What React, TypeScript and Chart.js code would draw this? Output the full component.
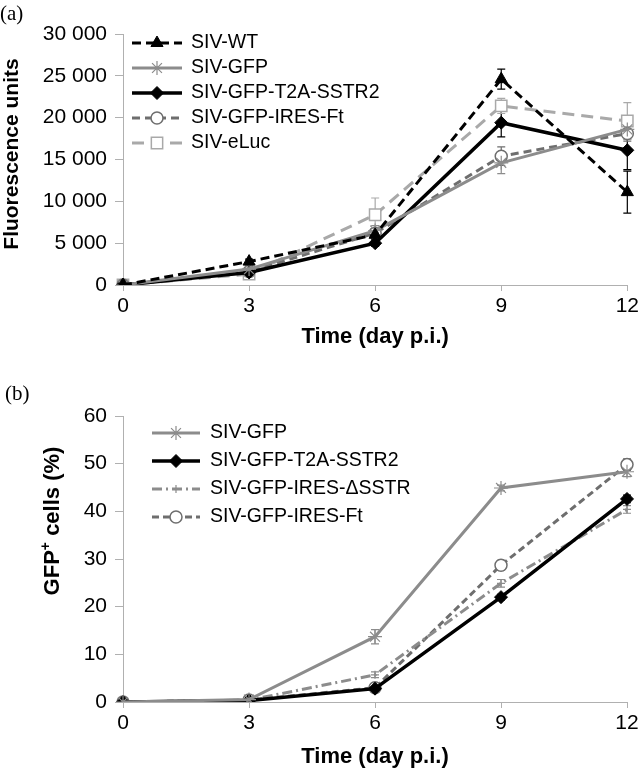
import React, { useEffect, useRef } from 'react';
import { Chart, registerables } from 'chart.js';
import { drawPoint } from 'chart.js/helpers';
Chart.register(...registerables);

const FONT = "'Liberation Sans', Arial, Helvetica, sans-serif";
const AXIS = '#b0b0b0';

// ---------- Panel (a) ----------
const daysA = ['0', '3', '6', '9', '12'];
const yTicksA = ['0', '5 000', '10 000', '15 000', '20 000', '25 000', '30 000'];
const wtA = [0, 2800, 6000, 24600, 11100];
const wtErrA = [0, 300, 500, 1200, 2500];
const gfpA = [0, 1900, 6500, 14600, 18600];
const gfpErrA = [0, 300, 600, 1300, 1200];
const t2aA = [0, 1500, 5000, 19400, 16100];
const t2aErrA = [0, 300, 400, 1700, 2300];
const ftA = [0, 1600, 6200, 15400, 18100];
const ftErrA = [0, 400, 500, 1100, 900];
const elucA = [0, 1300, 8400, 21400, 19600];
const elucErrA = [0, 500, 2000, 900, 2200];

// ---------- Panel (b) ----------
const daysB = ['0', '3', '6', '9', '12'];
const yTicksB = ['0', '10', '20', '30', '40', '50', '60'];
const gfpB = [0, 0.5, 13.7, 44.9, 48.3];
const gfpErrB = [0, 0, 1.5, 0.6, 1.0];
const t2aB = [0, 0.3, 2.8, 22.0, 42.6];
const t2aErrB = [0, 0, 0.5, 0.6, 0.8];
const dsstrB = [0, 0.4, 5.7, 24.9, 40.4];
const dsstrErrB = [0, 0, 0.6, 0.8, 0.8];
const ftB = [0, 0.4, 3.0, 28.7, 49.8];
const ftErrB = [0, 0, 0.5, 1.0, 1.2];

const errorBarPlugin = {
  id: 'errorBars',
  beforeDatasetsDraw(chart: any) {
    const ctx = chart.ctx;
    const ys = chart.scales.y;
    chart.data.datasets.forEach((ds: any, i: number) => {
      const errs = ds.errors;
      if (!errs) return;
      const meta = chart.getDatasetMeta(i);
      ctx.save();
      ctx.strokeStyle = ds.borderColor;
      ctx.lineWidth = 1.2;
      ctx.setLineDash([]);
      meta.data.forEach((pt: any, j: number) => {
        const e = errs[j];
        if (!e) return;
        const v = ds.data[j];
        const top = ys.getPixelForValue(v + e);
        const bot = ys.getPixelForValue(v - e);
        ctx.beginPath();
        ctx.moveTo(pt.x, top);
        ctx.lineTo(pt.x, bot);
        ctx.moveTo(pt.x - 4, top);
        ctx.lineTo(pt.x + 4, top);
        ctx.moveTo(pt.x - 4, bot);
        ctx.lineTo(pt.x + 4, bot);
        ctx.stroke();
      });
      ctx.restore();
    });
  },
};

const legendPlugin = {
  id: 'customLegend',
  afterDraw(chart: any, _args: any, opts: any) {
    if (!opts || opts.x0 === undefined) return;
    const ctx = chart.ctx;
    chart.data.datasets.forEach((ds: any, i: number) => {
      const y = opts.y0 + i * opts.dy;
      ctx.save();
      ctx.strokeStyle = ds.borderColor;
      ctx.lineWidth = ds.borderWidth;
      ctx.setLineDash(ds.borderDash || []);
      ctx.beginPath();
      ctx.moveTo(opts.x0, y);
      ctx.lineTo(opts.x1, y);
      ctx.stroke();
      ctx.setLineDash([]);
      ctx.fillStyle = ds.pointBackgroundColor;
      ctx.strokeStyle = ds.pointBorderColor;
      ctx.lineWidth = ds.pointBorderWidth;
      drawPoint(ctx, { pointStyle: ds.pointStyle, radius: ds.pointRadius, rotation: 0, borderWidth: ds.pointBorderWidth } as any, (opts.x0 + opts.x1) / 2, y);
      ctx.fillStyle = '#000';
      ctx.font = opts.font;
      ctx.textBaseline = 'middle';
      ctx.textAlign = 'left';
      ctx.fillText(ds.label, opts.textX, y);
      ctx.restore();
    });
  },
};

const yTitlePlugin = {
  id: 'yTitle',
  afterDraw(chart: any, _args: any, opts: any) {
    if (!opts || !opts.parts) return;
    const ctx = chart.ctx;
    ctx.save();
    ctx.translate(opts.x, opts.y);
    ctx.rotate(-Math.PI / 2);
    let total = 0;
    opts.parts.forEach((p: any) => {
      ctx.font = `bold ${p.size}px ${FONT}`;
      total += ctx.measureText(p.text).width;
    });
    let cx = -total / 2;
    ctx.fillStyle = '#000';
    ctx.textBaseline = 'middle';
    ctx.textAlign = 'left';
    opts.parts.forEach((p: any) => {
      ctx.font = `bold ${p.size}px ${FONT}`;
      ctx.fillText(p.text, cx, -(p.rise || 0));
      cx += ctx.measureText(p.text).width;
    });
    ctx.restore();
  },
};

function makeConfig(p: any): any {
  return {
    type: 'line',
    data: { labels: p.labels, datasets: p.datasets },
    plugins: [errorBarPlugin, legendPlugin, yTitlePlugin],
    options: {
      animation: false,
      responsive: false,
      devicePixelRatio: 1,
      events: [],
      layout: { padding: { top: p.padTop, right: p.padRight, bottom: 0, left: 0 } },
      plugins: {
        legend: { display: false },
        tooltip: { enabled: false },
        customLegend: p.legend,
        yTitle: p.yTitle,
      },
      scales: {
        x: {
          type: 'category',
          offset: false,
          grid: { display: true, drawOnChartArea: false, drawTicks: true, tickLength: 6, color: AXIS, lineWidth: 1 },
          border: { display: true, color: AXIS, width: 1 },
          ticks: { color: '#000', font: { family: FONT, size: 21 }, padding: 3, maxRotation: 0, autoSkip: false },
          title: {
            display: true,
            text: 'Time (day p.i.)',
            color: '#000',
            font: { family: FONT, size: 22, weight: 'bold' },
            padding: { top: 0, bottom: p.xTitlePad },
          },
          afterFit: (s: any) => { s.height = p.xHeight; },
        },
        y: {
          min: 0,
          max: p.yMax,
          grid: { display: true, drawOnChartArea: false, drawTicks: true, tickLength: 8, color: AXIS, lineWidth: 1 },
          border: { display: true, color: AXIS, width: 1 },
          ticks: {
            stepSize: p.yStep,
            color: '#000',
            font: { family: FONT, size: 21 },
            padding: 8,
            callback: (_v: any, i: number) => p.yTicks[i],
          },
          afterFit: (s: any) => { s.width = 123; },
        },
      },
    },
  };
}

function ds(label: string, data: number[], errors: number[], st: any) {
  return {
    label,
    data,
    errors,
    fill: false,
    tension: 0,
    borderColor: st.color,
    borderWidth: st.width,
    borderDash: st.dash || [],
    pointStyle: st.point,
    pointRadius: st.radius,
    pointBackgroundColor: st.bg,
    pointBorderColor: st.color,
    pointBorderWidth: st.pbw,
  };
}

const configA = () =>
  makeConfig({
    labels: daysA,
    yMax: 30000,
    yStep: 5000,
    yTicks: yTicksA,
    padTop: 34,
    padRight: 12,
    xHeight: 80,
    xTitlePad: 15,
    legend: { x0: 132, x1: 182, textX: 191, y0: 43, dy: 25, font: `19.5px ${FONT}` },
    yTitle: { x: 12, y: 154, parts: [{ text: 'Fluorescence units', size: 21 }] },
    datasets: [
      ds('SIV-WT', wtA, wtErrA, { color: '#000000', width: 3, dash: [9, 5], point: 'triangle', radius: 7, bg: '#000000', pbw: 1 }),
      ds('SIV-GFP', gfpA, gfpErrA, { color: '#8c8c8c', width: 3, point: 'star', radius: 7, bg: '#8c8c8c', pbw: 1.2 }),
      ds('SIV-GFP-T2A-SSTR2', t2aA, t2aErrA, { color: '#000000', width: 3.5, point: 'rectRot', radius: 6.5, bg: '#000000', pbw: 1 }),
      ds('SIV-GFP-IRES-Ft', ftA, ftErrA, { color: '#6e6e6e', width: 3, dash: [8, 5], point: 'circle', radius: 6, bg: '#ffffff', pbw: 1.5 }),
      ds('SIV-eLuc', elucA, elucErrA, { color: '#a9a9a9', width: 3, dash: [12, 7], point: 'rect', radius: 8, bg: '#ffffff', pbw: 1.5 }),
    ],
  });

const configB = () =>
  makeConfig({
    labels: daysB,
    yMax: 60,
    yStep: 10,
    yTicks: yTicksB,
    padTop: 51,
    padRight: 15,
    xHeight: 70,
    xTitlePad: 2,
    legend: { x0: 152, x1: 200, textX: 210, y0: 68, dy: 28, font: `19.5px ${FONT}` },
    yTitle: {
      x: 53,
      y: 156,
      parts: [
        { text: 'GFP', size: 22 },
        { text: '+', size: 14, rise: 7 },
        { text: ' cells (%)', size: 22 },
      ],
    },
    datasets: [
      ds('SIV-GFP', gfpB, gfpErrB, { color: '#8c8c8c', width: 3, point: 'star', radius: 7, bg: '#8c8c8c', pbw: 1.2 }),
      ds('SIV-GFP-T2A-SSTR2', t2aB, t2aErrB, { color: '#000000', width: 3.5, point: 'rectRot', radius: 6.5, bg: '#000000', pbw: 1 }),
      ds('SIV-GFP-IRES-\u0394SSTR', dsstrB, dsstrErrB, { color: '#8c8c8c', width: 3, dash: [10, 4, 2, 4], point: 'cross', radius: 4, bg: '#8c8c8c', pbw: 1.2 }),
      ds('SIV-GFP-IRES-Ft', ftB, ftErrB, { color: '#6e6e6e', width: 3, dash: [7, 4], point: 'circle', radius: 6, bg: '#ffffff', pbw: 1.5 }),
    ],
  });

function Panel({ make, top, height }: { make: () => any; top: number; height: number }) {
  const ref = useRef<HTMLCanvasElement>(null);
  useEffect(() => {
    if (!ref.current) return;
    const chart = new Chart(ref.current, make());
    return () => chart.destroy();
  }, []);
  return (
    <div style={{ position: 'absolute', left: 0, top, width: 642, height }}>
      <canvas ref={ref} width={642} height={height} style={{ display: 'block', width: 642, height }} />
    </div>
  );
}

export default function App() {
  return (
    <div style={{ position: 'absolute', left: 0, top: 0, width: 642, height: 772, background: '#ffffff' }}>
      <Panel make={configA} top={0} height={365} />
      <Panel make={configB} top={365} height={407} />
      <div style={{ position: 'absolute', left: 0, top: 1, font: "21px 'Liberation Serif', serif", lineHeight: '24px', color: '#000' }}>(a)</div>
      <div style={{ position: 'absolute', left: 5, top: 381, font: "21px 'Liberation Serif', serif", lineHeight: '24px', color: '#000' }}>(b)</div>
    </div>
  );
}
